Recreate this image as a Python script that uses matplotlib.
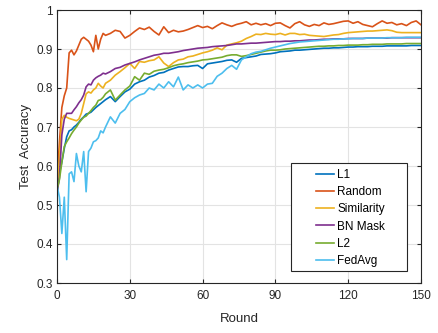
import matplotlib
matplotlib.use("Agg")
import matplotlib.pyplot as plt
from matplotlib.patches import Rectangle

rounds = list(range(0, 21)) + list(range(22, 151, 2))

acc_l1 = [0.53, 0.58, 0.61, 0.645, 0.675, 0.69, 0.693, 0.70, 0.705, 0.712, 0.72,
          0.726, 0.733, 0.735, 0.738, 0.744, 0.75, 0.755, 0.76, 0.765, 0.77,
          0.778, 0.765, 0.778, 0.79, 0.797, 0.81, 0.816, 0.82, 0.828, 0.832,
          0.838, 0.84, 0.846, 0.85, 0.854, 0.855, 0.855, 0.857, 0.858, 0.85,
          0.862, 0.864, 0.866, 0.868, 0.871, 0.872, 0.866, 0.876, 0.878, 0.88,
          0.882, 0.886, 0.887, 0.888, 0.89, 0.893, 0.894, 0.895, 0.897, 0.897,
          0.898, 0.899, 0.90, 0.901, 0.902, 0.902, 0.903, 0.903, 0.904, 0.905,
          0.905, 0.906, 0.906, 0.906, 0.907, 0.907, 0.907, 0.908, 0.908, 0.908,
          0.908, 0.908, 0.909, 0.909, 0.909]

acc_random = [0.56, 0.66, 0.75, 0.78, 0.80, 0.89, 0.897, 0.885, 0.895, 0.91, 0.925,
              0.93, 0.925, 0.92, 0.91, 0.893, 0.935, 0.90, 0.925, 0.94, 0.935,
              0.94, 0.948, 0.945, 0.928, 0.935, 0.945, 0.954, 0.95, 0.956, 0.945,
              0.936, 0.957, 0.942, 0.948, 0.944, 0.946, 0.95, 0.955, 0.96, 0.955,
              0.958, 0.952, 0.96, 0.967, 0.962, 0.958, 0.963, 0.966, 0.97, 0.962,
              0.966, 0.962, 0.965, 0.96, 0.966, 0.967, 0.96, 0.954, 0.965, 0.97,
              0.962, 0.958, 0.963, 0.96, 0.967, 0.963, 0.965, 0.968, 0.971, 0.972,
              0.966, 0.97, 0.963, 0.96, 0.957, 0.965, 0.972, 0.966, 0.968, 0.962,
              0.965, 0.96, 0.968, 0.972, 0.962]

acc_similarity = [0.53, 0.62, 0.72, 0.73, 0.725, 0.722, 0.72, 0.718, 0.716, 0.72, 0.735,
                  0.76, 0.785, 0.79, 0.787, 0.795, 0.80, 0.812, 0.805, 0.80, 0.812,
                  0.82, 0.833, 0.842, 0.852, 0.863, 0.85, 0.868, 0.866, 0.87, 0.872,
                  0.88, 0.864, 0.855, 0.865, 0.872, 0.874, 0.88, 0.882, 0.886, 0.89,
                  0.893, 0.897, 0.903, 0.898, 0.91, 0.913, 0.916, 0.92, 0.927, 0.932,
                  0.938, 0.937, 0.94, 0.938, 0.937, 0.94, 0.936, 0.94, 0.94, 0.937,
                  0.938, 0.935, 0.934, 0.933, 0.932, 0.934, 0.936, 0.937, 0.94, 0.942,
                  0.943, 0.944, 0.945, 0.946, 0.946, 0.947, 0.948, 0.949, 0.947, 0.943,
                  0.942, 0.942, 0.942, 0.942, 0.942]

acc_bnmask = [0.53, 0.57, 0.68, 0.72, 0.735, 0.735, 0.735, 0.744, 0.752, 0.762, 0.77,
              0.782, 0.803, 0.81, 0.808, 0.82, 0.826, 0.83, 0.833, 0.838, 0.836,
              0.842, 0.85, 0.853, 0.859, 0.863, 0.867, 0.872, 0.876, 0.88, 0.884,
              0.886, 0.889, 0.889, 0.891, 0.893, 0.896, 0.898, 0.90, 0.902, 0.903,
              0.904, 0.906, 0.907, 0.908, 0.909, 0.911, 0.913, 0.913, 0.914, 0.915,
              0.915, 0.916, 0.917, 0.918, 0.919, 0.919, 0.92, 0.92, 0.921, 0.921,
              0.922, 0.923, 0.923, 0.924, 0.925, 0.925, 0.926, 0.926, 0.926, 0.927,
              0.927, 0.927, 0.927, 0.928, 0.928, 0.928, 0.928, 0.928, 0.929, 0.929,
              0.929, 0.929, 0.929, 0.929, 0.929]

acc_l2 = [0.54, 0.565, 0.61, 0.65, 0.662, 0.672, 0.683, 0.692, 0.70, 0.71, 0.718,
          0.725, 0.728, 0.735, 0.742, 0.75, 0.756, 0.768, 0.77, 0.776, 0.785,
          0.795, 0.769, 0.782, 0.795, 0.805, 0.829, 0.82, 0.838, 0.835, 0.843,
          0.846, 0.848, 0.852, 0.857, 0.86, 0.862, 0.865, 0.867, 0.869, 0.872,
          0.873, 0.875, 0.877, 0.879, 0.883, 0.885, 0.885, 0.881, 0.883, 0.886,
          0.889, 0.892, 0.895, 0.897, 0.897, 0.898, 0.90, 0.901, 0.902, 0.903,
          0.904, 0.905, 0.906, 0.907, 0.907, 0.908, 0.908, 0.909, 0.909, 0.91,
          0.91, 0.91, 0.911, 0.911, 0.912, 0.912, 0.912, 0.913, 0.913, 0.913,
          0.913, 0.914, 0.914, 0.914, 0.914]

acc_fedavg = [0.55, 0.52, 0.427, 0.52, 0.36, 0.58, 0.585, 0.56, 0.632, 0.60, 0.585,
              0.637, 0.534, 0.637, 0.646, 0.662, 0.665, 0.672, 0.69, 0.685, 0.70,
              0.726, 0.71, 0.735, 0.745, 0.765, 0.775, 0.782, 0.786, 0.80, 0.795,
              0.81, 0.80, 0.816, 0.803, 0.828, 0.795, 0.808, 0.80, 0.808, 0.80,
              0.81, 0.812, 0.83, 0.838, 0.85, 0.858, 0.848, 0.872, 0.88, 0.888,
              0.892, 0.894, 0.898, 0.902, 0.905, 0.908, 0.911, 0.914, 0.916, 0.918,
              0.919, 0.92, 0.921, 0.922, 0.923, 0.924, 0.925, 0.925, 0.926, 0.926,
              0.927, 0.927, 0.927, 0.928, 0.928, 0.928, 0.928, 0.929, 0.929, 0.929,
              0.929, 0.93, 0.93, 0.93, 0.93]

series_names = ["L1", "Random", "Similarity", "BN Mask", "L2", "FedAvg"]
series_values = [acc_l1, acc_random, acc_similarity, acc_bnmask, acc_l2, acc_fedavg]
colors = ["#0072BD", "#D95319", "#EDB120", "#7E2F8E", "#77AC30", "#4DBEEE"]

x_ticks = [0, 30, 60, 90, 120, 150]
y_ticks = [0.3, 0.4, 0.5, 0.6, 0.7, 0.8, 0.9, 1.0]
y_tick_labels = ["0.3", "0.4", "0.5", "0.6", "0.7", "0.8", "0.9", "1"]

plt.rcParams['font.family'] = ['Liberation Sans', 'DejaVu Sans']

W, H = 439, 333
L, R, T, B = 57, 421, 10, 283
fig = plt.figure(figsize=(W / 100, H / 100), dpi=100)
ax = fig.add_axes([L / W, 1 - B / H, (R - L) / W, (B - T) / H])

for name, vals, c in zip(series_names, series_values, colors):
    ax.plot(rounds, vals, color=c, lw=1.2, label=name)

ax.set_xlim(0, 150)
ax.set_ylim(0.3, 1.0)
ax.set_xticks(x_ticks)
ax.set_yticks(y_ticks)
ax.set_yticklabels(y_tick_labels)
ax.grid(True, color="#E3E3E3", lw=0.8)
ax.set_axisbelow(True)
for s in ax.spines.values():
    s.set_color("#262626")
    s.set_linewidth(0.8)
ax.tick_params(direction="in", top=True, right=True, length=3, width=0.8,
               colors="#262626", labelsize=8.5)
ax.tick_params(axis="x", pad=5)
ax.tick_params(axis="y", pad=3)
ax.set_xlabel("Round", fontsize=9.5, color="#262626", labelpad=8)
ax.set_ylabel("Test  Accuracy", fontsize=9.5, color="#262626", labelpad=3)

# legend frame (pixel box converted to axes fraction)
fx0 = (291 - L) / (R - L)
fx1 = (407 - L) / (R - L)
fy0 = (B - 271) / (B - T)
fy1 = (B - 163) / (B - T)
ax.add_patch(Rectangle((fx0, fy0), fx1 - fx0, fy1 - fy0, transform=ax.transAxes,
                       facecolor="white", edgecolor="#262626", lw=0.8, zorder=5))

leg = ax.legend(loc="upper left", bbox_to_anchor=((316 - L) / (R - L), (B - 169) / (B - T)),
                fontsize=8.5, frameon=False,
                handlelength=1.55, handletextpad=0.25, borderpad=0,
                labelspacing=0.44, borderaxespad=0)
leg.set_zorder(6)

fig.savefig("out.png", dpi=100)
